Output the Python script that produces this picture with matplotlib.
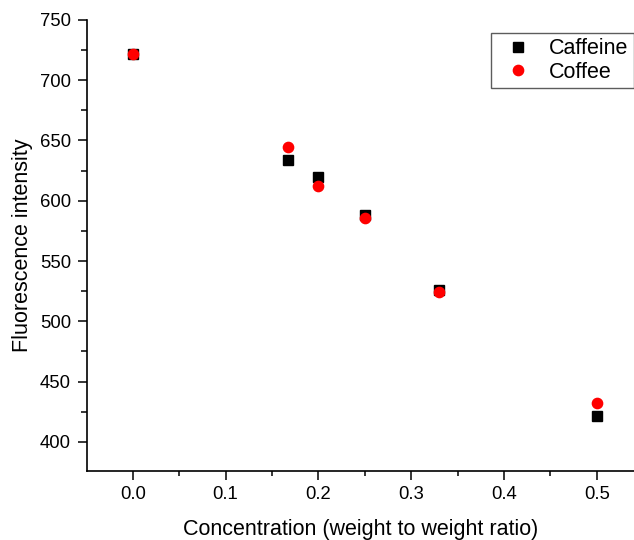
import matplotlib.pyplot as plt
from matplotlib.ticker import MultipleLocator

plt.rcParams['font.family'] = ['Liberation Sans', 'DejaVu Sans']

# data
conc = [0.0, 0.167, 0.2, 0.25, 0.33, 0.5]
caffeine = [722, 634, 620, 588, 526, 421]
coffee = [722, 645, 612, 586, 524, 432]

fig = plt.figure(figsize=(6.34, 5.40), dpi=100)
ax = fig.add_axes([0.1367, 0.1283, 0.8633, 0.8347])

ax.plot(conc, caffeine, 's', color='black', markersize=6.7, linestyle='none', label='Caffeine')
ax.plot(conc, coffee, 'o', color='red', markersize=7.4, linestyle='none', label='Coffee')

ax.set_xlim(-0.0496, 0.540)
ax.set_ylim(376, 750)
ax.xaxis.set_major_locator(MultipleLocator(0.1))
ax.xaxis.set_minor_locator(MultipleLocator(0.05))
ax.yaxis.set_major_locator(MultipleLocator(50))
ax.yaxis.set_minor_locator(MultipleLocator(25))
ax.xaxis.set_major_formatter(plt.FuncFormatter(lambda v, p: f'{v:.1f}'))

for s in ['top', 'right']:
    ax.spines[s].set_visible(False)
for s in ['left', 'bottom']:
    ax.spines[s].set_linewidth(1.2)

ax.tick_params(which='major', direction='out', length=6.3, width=1.1, labelsize=13.3, pad=5)
ax.tick_params(which='minor', direction='out', length=3.5, width=1.1)
ax.tick_params(axis='y', which='minor', length=4.5)

ax.set_xlabel('Concentration (weight to weight ratio)', fontsize=15.5, labelpad=11)
ax.set_ylabel('Fluorescence intensity', fontsize=15.5, labelpad=5)

leg = ax.legend(loc='upper left', bbox_to_anchor=(490.7 / 634, 1 - 33 / 540),
                bbox_transform=fig.transFigure, fontsize=15.5, frameon=True,
                fancybox=False, edgecolor='#333333', handletextpad=0.45,
                borderpad=0.25, labelspacing=0.1, handlelength=2.0, borderaxespad=0)
leg.get_frame().set_linewidth(1.0)

fig.savefig('out.png', dpi=100)
